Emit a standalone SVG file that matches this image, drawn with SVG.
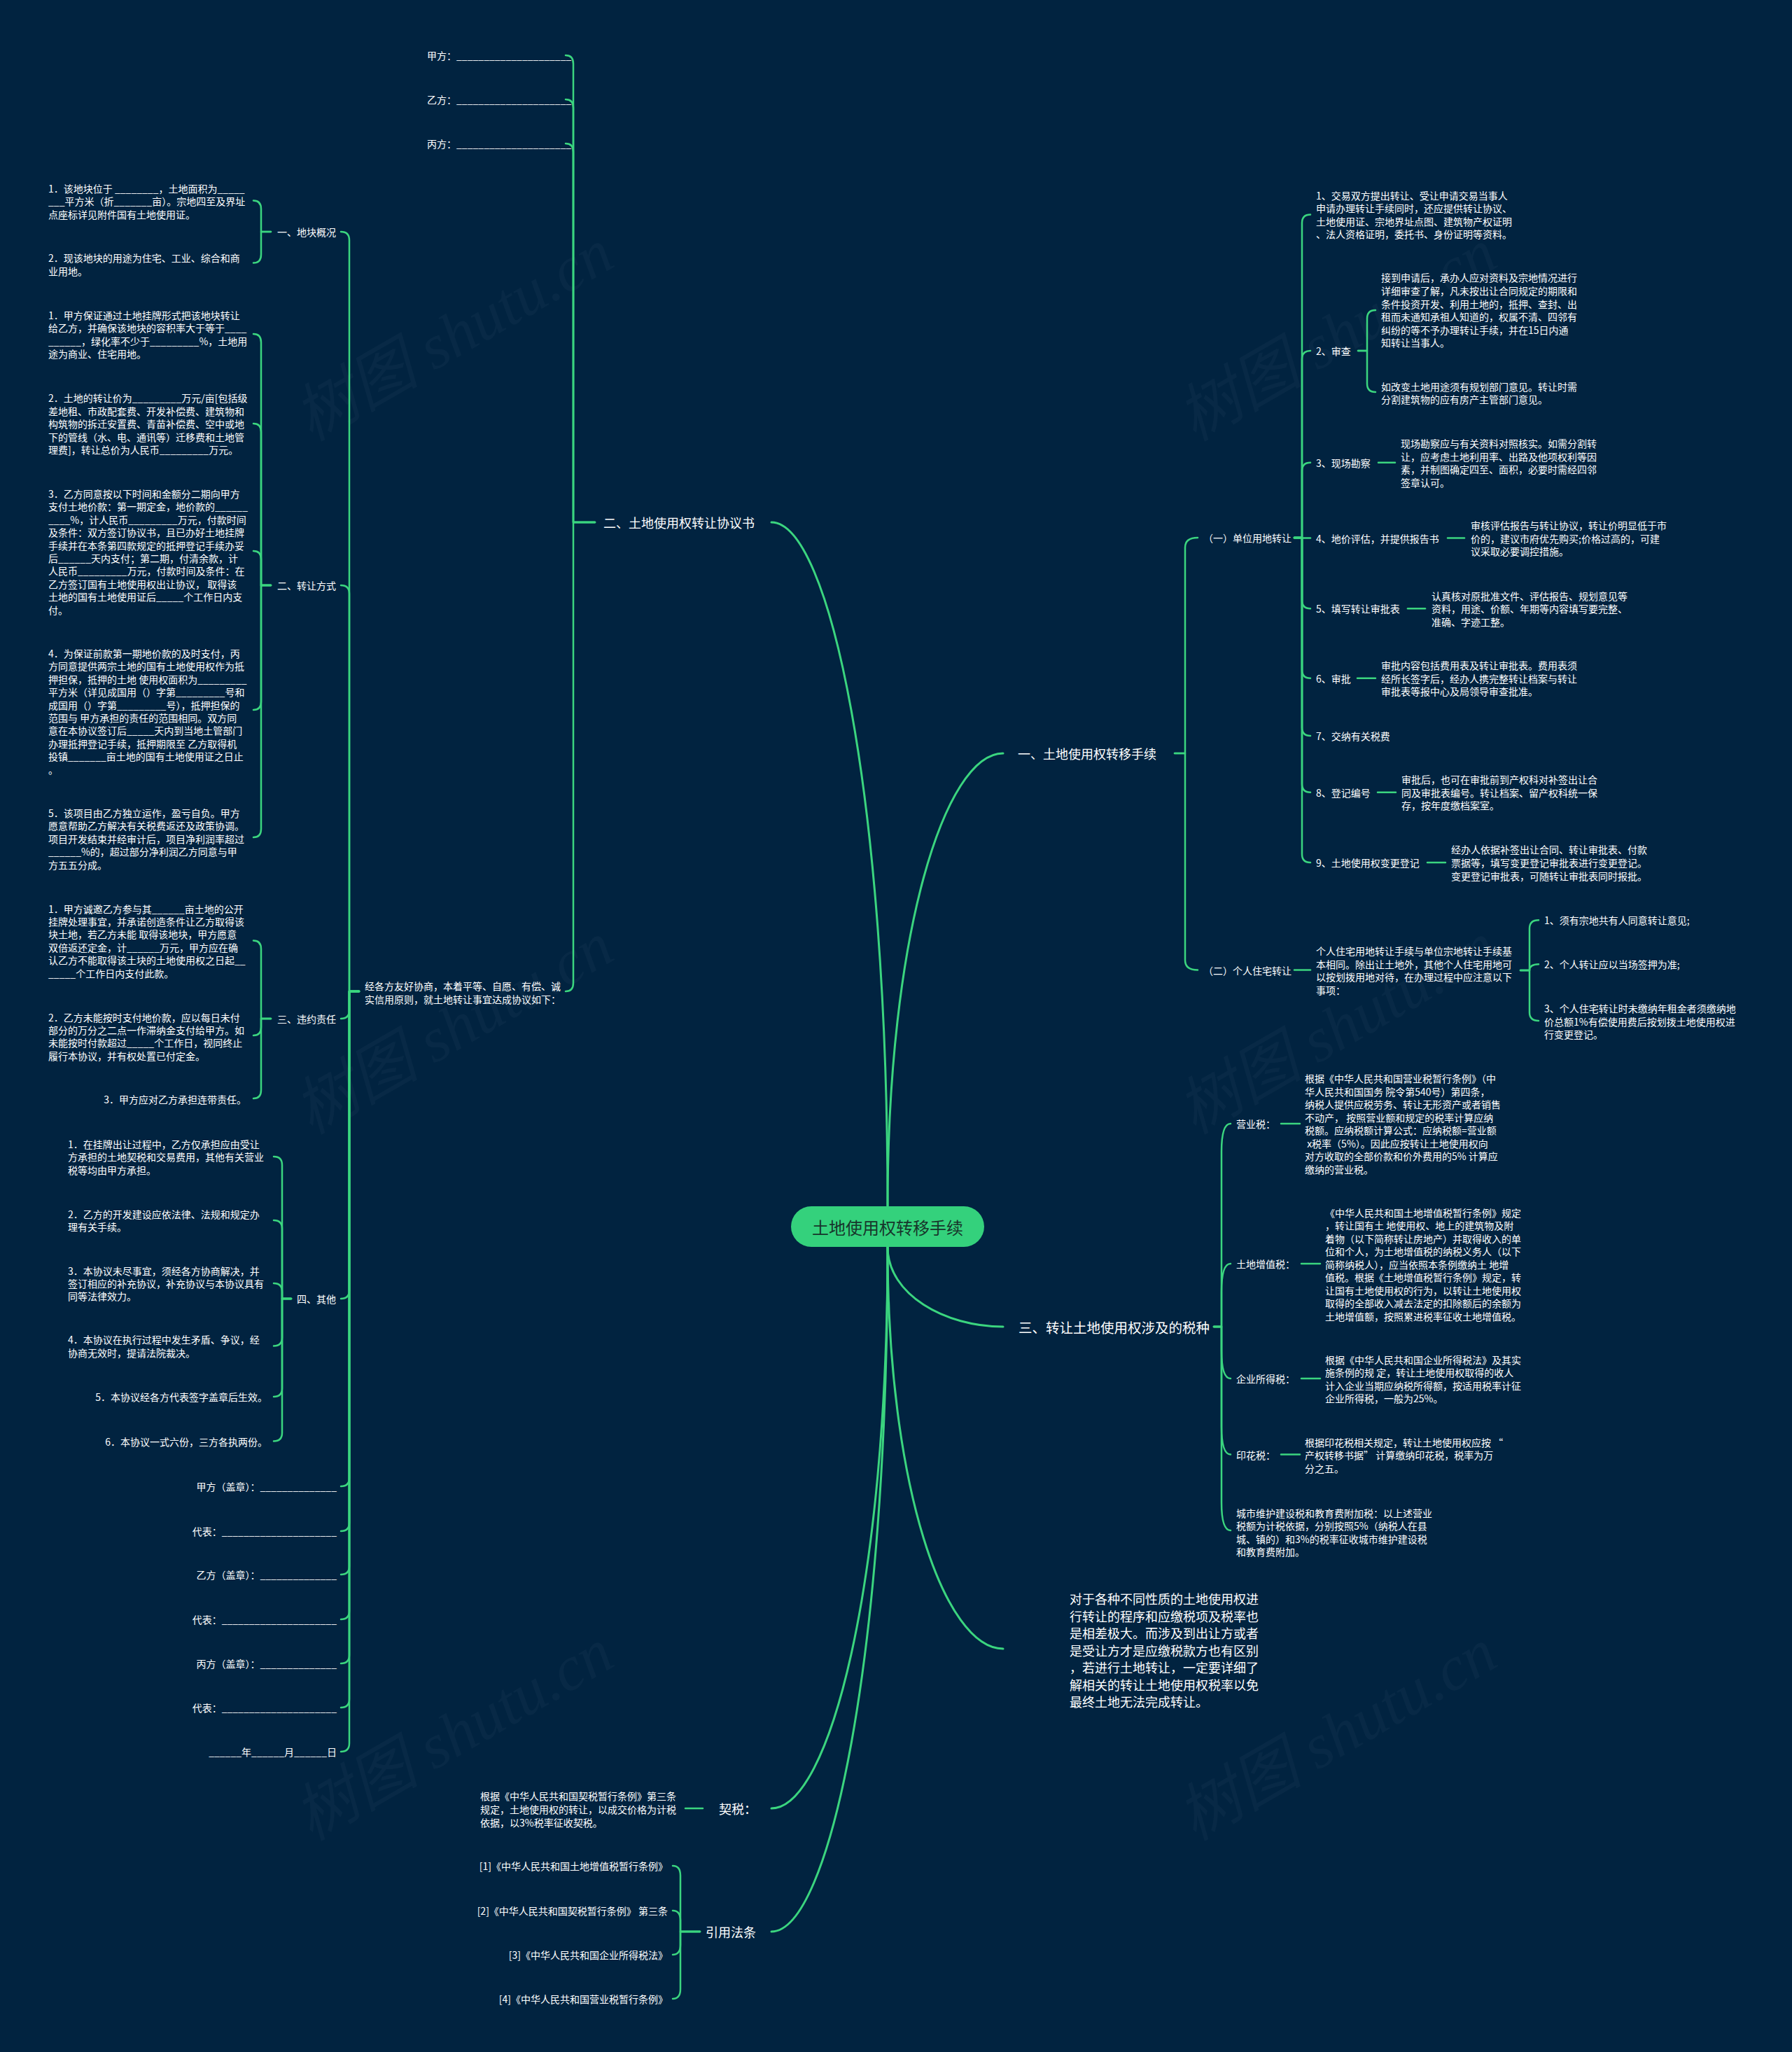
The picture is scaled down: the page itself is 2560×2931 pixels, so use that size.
<svg xmlns="http://www.w3.org/2000/svg" width="2560" height="2931" viewBox="0 0 2560 2931">
<defs>
<style>
.t{font-family:"Noto Sans CJK SC","Liberation Sans",sans-serif;font-size:14px;fill:#ffffff;dominant-baseline:central}
.e{text-anchor:end}
.l1{font-size:18px}
.l1b{font-size:19.5px}
.c{fill:none;stroke:#3bd57f;stroke-width:2.5;stroke-linecap:round;stroke-linejoin:round}
.rc{stroke-width:3}
.wm{font-family:"Liberation Serif","Noto Sans CJK SC",serif;font-style:italic;font-size:90px;fill:#ffffff;fill-opacity:0.03;text-anchor:middle}
</style>
</defs>
<rect x="0" y="0" width="2560" height="2931" fill="#012340"/>
<g id="watermarks">
<text class="wm" x="663" y="505" transform="rotate(-30 663 505)">树图 shutu.cn</text>
<text class="wm" x="663" y="1495" transform="rotate(-30 663 1495)">树图 shutu.cn</text>
<text class="wm" x="663" y="2504" transform="rotate(-30 663 2504)">树图 shutu.cn</text>
<text class="wm" x="1925" y="505" transform="rotate(-30 1925 505)">树图 shutu.cn</text>
<text class="wm" x="1925" y="1495" transform="rotate(-30 1925 1495)">树图 shutu.cn</text>
<text class="wm" x="1925" y="2504" transform="rotate(-30 1925 2504)">树图 shutu.cn</text>
</g>
<g id="connectors">
<path class="c rc" d="M1268 1723C1268 1137 1185 746 1102 746"/>
<path class="c rc" d="M1268 1723C1268 1335 1350 1076 1433 1076"/>
<path class="c rc" d="M1268 1781C1268 1849 1350 1895 1433 1895"/>
<path class="c rc" d="M1268 1781C1268 2125 1350 2355 1433 2355"/>
<path class="c rc" d="M1268 1781C1268 2262 1185 2583 1102 2583"/>
<path class="c rc" d="M1268 1781C1268 2368 1185 2759 1102 2759"/>
<path class="c" d="M850 746H819V91Q819 79 808 79"/>
<path class="c" d="M850 746H819V154Q819 142 808 142"/>
<path class="c" d="M850 746H819V217Q819 205 808 205"/>
<path class="c" d="M850 746H819V1404Q819 1416 808 1416"/>
<path class="c" d="M513 1416H499V343Q499 331 487 331"/>
<path class="c" d="M513 1416H499V848Q499 836 487 836"/>
<path class="c" d="M513 1416H499V1443Q499 1455 487 1455"/>
<path class="c" d="M513 1416H499V1843Q499 1855 487 1855"/>
<path class="c" d="M513 1416H499V2111Q499 2123 487 2123"/>
<path class="c" d="M513 1416H499V2175Q499 2187 487 2187"/>
<path class="c" d="M513 1416H499V2237Q499 2249 487 2249"/>
<path class="c" d="M513 1416H499V2301Q499 2313 487 2313"/>
<path class="c" d="M513 1416H499V2364Q499 2376 487 2376"/>
<path class="c" d="M513 1416H499V2427Q499 2439 487 2439"/>
<path class="c" d="M513 1416H499V2490Q499 2502 487 2502"/>
<path class="c" d="M387 331H373V298.5Q373 286.5 362 286.5"/>
<path class="c" d="M387 331H373V363.5Q373 375.5 362 375.5"/>
<path class="c" d="M387 836H373V489Q373 477 362 477"/>
<path class="c" d="M387 836H373V617Q373 605 362 605"/>
<path class="c" d="M387 836H373V799Q373 787 362 787"/>
<path class="c" d="M387 836H373V1002Q373 1014 362 1014"/>
<path class="c" d="M387 836H373V1184Q373 1196 362 1196"/>
<path class="c" d="M387 1455H373V1355.5Q373 1343.5 362 1343.5"/>
<path class="c" d="M387 1455H373V1467Q373 1479 362 1479"/>
<path class="c" d="M387 1455H373V1557Q373 1569 362 1569"/>
<path class="c" d="M416 1855H403V1664Q403 1652 391 1652"/>
<path class="c" d="M416 1855H403V1755Q403 1743 391 1743"/>
<path class="c" d="M416 1855H403V1845Q403 1833 391 1833"/>
<path class="c" d="M416 1855H403V1910.5Q403 1922.5 391 1922.5"/>
<path class="c" d="M416 1855H403V1983Q403 1995 391 1995"/>
<path class="c" d="M416 1855H403V2046.5Q403 2058.5 391 2058.5"/>
<path class="c" d="M1004 2583H979"/>
<path class="c" d="M1000 2759H972V2679Q972 2665 961 2665"/>
<path class="c" d="M1000 2759H972V2743Q972 2729 961 2729"/>
<path class="c" d="M1000 2759H972V2778Q972 2792 961 2792"/>
<path class="c" d="M1000 2759H972V2841Q972 2855 961 2855"/>
<path class="c" d="M1678 1076H1693V782Q1693 768 1711 768"/>
<path class="c" d="M1678 1076H1693V1371.5Q1693 1385.5 1711 1385.5"/>
<path class="c" d="M1849 768H1860V318.5Q1860 306.5 1872 306.5"/>
<path class="c" d="M1849 768H1860V513Q1860 501 1872 501"/>
<path class="c" d="M1849 768H1860V672.7Q1860 660.7 1872 660.7"/>
<path class="c" d="M1849 768.6H1872"/>
<path class="c" d="M1849 768H1860V857.2Q1860 869.2 1872 869.2"/>
<path class="c" d="M1849 768H1860V956.7Q1860 968.7 1872 968.7"/>
<path class="c" d="M1849 768H1860V1038.9Q1860 1050.9 1872 1050.9"/>
<path class="c" d="M1849 768H1860V1119.7Q1860 1131.7 1872 1131.7"/>
<path class="c" d="M1849 768H1860V1220Q1860 1232 1872 1232"/>
<path class="c" d="M1849 1385.5H1872"/>
<path class="c" d="M1940 501H1953V455Q1953 443 1965 443"/>
<path class="c" d="M1940 501H1953V548Q1953 560 1965 560"/>
<path class="c" d="M1969 660.7H1993"/>
<path class="c" d="M2068 768.6H2092"/>
<path class="c" d="M2011 869.2H2036"/>
<path class="c" d="M1939 968.7H1965"/>
<path class="c" d="M1968 1131.7H1994"/>
<path class="c" d="M2039 1232H2065"/>
<path class="c" d="M2172 1386H2185V1326.3Q2185 1314.3 2198 1314.3"/>
<path class="c" d="M2172 1386H2185Q2185 1377.2 2198 1377.2"/>
<path class="c" d="M2172 1386H2185V1446Q2185 1458 2198 1458"/>
<path class="c" d="M1734 1895H1745V1645Q1745 1605 1758 1605"/>
<path class="c" d="M1734 1895H1745V1845Q1745 1805 1758 1805"/>
<path class="c" d="M1734 1895H1745V1929Q1745 1969 1758 1969"/>
<path class="c" d="M1734 1895H1745V2037.5Q1745 2077.5 1758 2077.5"/>
<path class="c" d="M1734 1895H1745V2146Q1745 2186 1758 2186"/>
<path class="c" d="M1830 1605H1857"/>
<path class="c" d="M1859 1805H1886"/>
<path class="c" d="M1859 1969H1886"/>
<path class="c" d="M1830 2077.5H1857"/>
</g>
<g id="n-root">
<rect x="1130" y="1723" width="276" height="58" rx="29" fill="#34d17c"/>
<text class="t" x="1268" y="1752" style="font-size:24px;fill:#17362b;text-anchor:middle">土地使用权转移手续</text>
</g>
<g id="n-er"><text class="t l1" x="862" y="746">二、土地使用权转让协议书</text></g>
<g id="n-jiafang"><text class="t" x="610" y="79">甲方：_____________________</text></g>
<g id="n-yifang"><text class="t" x="610" y="142">乙方：_____________________</text></g>
<g id="n-bingfang"><text class="t" x="610" y="205">丙方：_____________________</text></g>
<g id="n-jingge"><text class="t"><tspan x="521" y="1408">经各方友好协商，本着平等、自愿、有偿、诚</tspan><tspan x="521" y="1427">实信用原则，就土地转让事宜达成协议如下：</tspan></text></g>
<g id="n-dk"><text class="t e" x="480" y="331">一、地块概况</text></g>
<g id="n-dk1"><text class="t"><tspan x="69" y="268.5">1．该地块位于 ________，土地面积为_____</tspan><tspan x="69" y="287">___平方米（折_______亩）。宗地四至及界址</tspan><tspan x="69" y="305.5">点座标详见附件国有土地使用证。</tspan></text></g>
<g id="n-dk2"><text class="t"><tspan x="69" y="368">2．现该地块的用途为住宅、工业、综合和商</tspan><tspan x="69" y="386.5">业用地。</tspan></text></g>
<g id="n-zr"><text class="t e" x="480" y="836">二、转让方式</text></g>
<g id="n-zr1"><text class="t"><tspan x="69" y="449.5">1．甲方保证通过土地挂牌形式把该地块转让</tspan><tspan x="69" y="468">给乙方，并确保该地块的容积率大于等于____</tspan><tspan x="69" y="486.5">______，绿化率不少于_________%，土地用</tspan><tspan x="69" y="505">途为商业、住宅用地。</tspan></text></g>
<g id="n-zr2"><text class="t"><tspan x="69" y="568">2．土地的转让价为_________万元/亩[包括级</tspan><tspan x="69" y="586.5">差地租、市政配套费、开发补偿费、建筑物和</tspan><tspan x="69" y="605">构筑物的拆迁安置费、青苗补偿费、空中或地</tspan><tspan x="69" y="623.5">下的管线（水、电、通讯等）迁移费和土地管</tspan><tspan x="69" y="642">理费]，转让总价为人民币_________万元。</tspan></text></g>
<g id="n-zr3"><text class="t"><tspan x="69" y="705">3．乙方同意按以下时间和金额分二期向甲方</tspan><tspan x="69" y="723.4">支付土地价款：第一期定金，地价款的______</tspan><tspan x="69" y="741.8">____%，计人民币_________万元，付款时间</tspan><tspan x="69" y="760.2">及条件：双方签订协议书，且已办好土地挂牌</tspan><tspan x="69" y="778.6">手续并在本条第四款规定的抵押登记手续办妥</tspan><tspan x="69" y="797">后______天内支付；第二期，付清余款，计</tspan><tspan x="69" y="815.4">人民币_________万元，付款时间及条件：在</tspan><tspan x="69" y="833.8">乙方签订国有土地使用权出让协议， 取得该</tspan><tspan x="69" y="852.2">土地的国有土地使用证后_____个工作日内支</tspan><tspan x="69" y="870.6">付。</tspan></text></g>
<g id="n-zr4"><text class="t"><tspan x="69" y="933">4．为保证前款第一期地价款的及时支付，丙</tspan><tspan x="69" y="951.4">方同意提供两宗土地的国有土地使用权作为抵</tspan><tspan x="69" y="969.8">押担保，抵押的土地 使用权面积为_________</tspan><tspan x="69" y="988.2">平方米（详见成国用（）字第_________号和</tspan><tspan x="69" y="1006.6">成国用（）字第_________号），抵押担保的</tspan><tspan x="69" y="1025">范围与 甲方承担的责任的范围相同。双方同</tspan><tspan x="69" y="1043.4">意在本协议签订后_____天内到当地土管部门</tspan><tspan x="69" y="1061.8">办理抵押登记手续，抵押期限至 乙方取得机</tspan><tspan x="69" y="1080.2">投镇_______亩土地的国有土地使用证之日止</tspan><tspan x="69" y="1098.6">。</tspan></text></g>
<g id="n-zr5"><text class="t"><tspan x="69" y="1161">5．该项目由乙方独立运作，盈亏自负。甲方</tspan><tspan x="69" y="1179.4">愿意帮助乙方解决有关税费返还及政策协调。</tspan><tspan x="69" y="1197.8">项目开发结束并经审计后，项目净利润率超过</tspan><tspan x="69" y="1216.2">______%的，超过部分净利润乙方同意与甲</tspan><tspan x="69" y="1234.6">方五五分成。</tspan></text></g>
<g id="n-wy"><text class="t e" x="480" y="1455">三、违约责任</text></g>
<g id="n-wy1"><text class="t"><tspan x="69" y="1297.5">1．甲方诚邀乙方参与其______亩土地的公开</tspan><tspan x="69" y="1315.9">挂牌处理事宜，并承诺创造条件让乙方取得该</tspan><tspan x="69" y="1334.3">块土地，若乙方未能 取得该地块，甲方愿意</tspan><tspan x="69" y="1352.7">双倍返还定金，计______万元，甲方应在确</tspan><tspan x="69" y="1371.1">认乙方不能取得该土块的土地使用权之日起__</tspan><tspan x="69" y="1389.5">_____个工作日内支付此款。</tspan></text></g>
<g id="n-wy2"><text class="t"><tspan x="69" y="1452.6">2．乙方未能按时支付地价款，应以每日未付</tspan><tspan x="69" y="1471">部分的万分之二点一作滞纳金支付给甲方。如</tspan><tspan x="69" y="1489.4">未能按时付款超过_____个工作日，视同终止</tspan><tspan x="69" y="1507.8">履行本协议，并有权处置已付定金。</tspan></text></g>
<g id="n-wy3"><text class="t e" x="352" y="1570">3．甲方应对乙方承担连带责任。</text></g>
<g id="n-qt"><text class="t e" x="480" y="1855">四、其他</text></g>
<g id="n-qt1"><text class="t"><tspan x="97" y="1634">1．在挂牌出让过程中，乙方仅承担应由受让</tspan><tspan x="97" y="1652.4">方承担的土地契税和交易费用，其他有关营业</tspan><tspan x="97" y="1670.8">税等均由甲方承担。</tspan></text></g>
<g id="n-qt2"><text class="t"><tspan x="97" y="1733.7">2．乙方的开发建设应依法律、法规和规定办</tspan><tspan x="97" y="1752.1">理有关手续。</tspan></text></g>
<g id="n-qt3"><text class="t"><tspan x="97" y="1814.6">3．本协议未尽事宜，须经各方协商解决，并</tspan><tspan x="97" y="1833">签订相应的补充协议，补充协议与本协议具有</tspan><tspan x="97" y="1851.4">同等法律效力。</tspan></text></g>
<g id="n-qt4"><text class="t"><tspan x="97" y="1913.4">4．本协议在执行过程中发生矛盾、争议，经</tspan><tspan x="97" y="1931.8">协商无效时，提请法院裁决。</tspan></text></g>
<g id="n-qt5"><text class="t e" x="382" y="1995">5．本协议经各方代表签字盖章后生效。</text></g>
<g id="n-qt6"><text class="t e" x="382" y="2058.5">6．本协议一式六份，三方各执两份。</text></g>
<g id="n-sig1"><text class="t e" x="481" y="2123">甲方（盖章）：______________</text></g>
<g id="n-sig2"><text class="t e" x="481" y="2187">代表：_____________________</text></g>
<g id="n-sig3"><text class="t e" x="481" y="2249">乙方（盖章）：______________</text></g>
<g id="n-sig4"><text class="t e" x="481" y="2313">代表：_____________________</text></g>
<g id="n-sig5"><text class="t e" x="481" y="2376">丙方（盖章）：______________</text></g>
<g id="n-sig6"><text class="t e" x="481" y="2439">代表：_____________________</text></g>
<g id="n-sig7"><text class="t e" x="481" y="2502">______年______月______日</text></g>
<g id="n-one"><text class="t l1" x="1454" y="1076">一、土地使用权转移手续</text></g>
<g id="n-dw"><text class="t" x="1719" y="768">（一）单位用地转让</text></g>
<g id="n-dw1"><text class="t"><tspan x="1880" y="278.5">1、交易双方提出转让、受让申请交易当事人</tspan><tspan x="1880" y="297.1">申请办理转让手续同时，还应提供转让协议、</tspan><tspan x="1880" y="315.7">土地使用证、宗地界址点图、建筑物产权证明</tspan><tspan x="1880" y="334.3">、法人资格证明，委托书、身份证明等资料。</tspan></text></g>
<g id="n-dw2"><text class="t" x="1880" y="501">2、审查</text></g>
<g id="n-dw2a"><text class="t"><tspan x="1973" y="396.4">接到申请后，承办人应对资料及宗地情况进行</tspan><tspan x="1973" y="415">详细审查了解，凡未按出让合同规定的期限和</tspan><tspan x="1973" y="433.6">条件投资开发、利用土地的，抵押、查封、出</tspan><tspan x="1973" y="452.2">租而未通知承祖人知道的，权属不清、四邻有</tspan><tspan x="1973" y="470.8">纠纷的等不予办理转让手续，并在15日内通</tspan><tspan x="1973" y="489.4">知转让当事人。</tspan></text></g>
<g id="n-dw2b"><text class="t"><tspan x="1973" y="551.8">如改变土地用途须有规划部门意见。转让时需</tspan><tspan x="1973" y="570.4">分割建筑物的应有房产主管部门意见。</tspan></text></g>
<g id="n-dw3"><text class="t" x="1880" y="660.7">3、现场勘察</text></g>
<g id="n-dw3a"><text class="t"><tspan x="2001" y="633.2">现场勘察应与有关资料对照核实。如需分割转</tspan><tspan x="2001" y="651.8">让，应考虑土地利用率、出路及他项权利等因</tspan><tspan x="2001" y="670.4">素，并制图确定四至、面积，必要时需经四邻</tspan><tspan x="2001" y="689">签章认可。</tspan></text></g>
<g id="n-dw4"><text class="t" x="1880" y="768.6">4、地价评估，并提供报告书</text></g>
<g id="n-dw4a"><text class="t"><tspan x="2101" y="750">审核评估报告与转让协议，转让价明显低于市</tspan><tspan x="2101" y="768.6">价的，建议市府优先购买;价格过高的，可建</tspan><tspan x="2101" y="787.2">议采取必要调控措施。</tspan></text></g>
<g id="n-dw5"><text class="t" x="1880" y="869.2">5、填写转让审批表</text></g>
<g id="n-dw5a"><text class="t"><tspan x="2045" y="850.6">认真核对原批准文件、评估报告、规划意见等</tspan><tspan x="2045" y="869.2">资料，用途、价额、年期等内容填写要完整、</tspan><tspan x="2045" y="887.8">准确、字迹工整。</tspan></text></g>
<g id="n-dw6"><text class="t" x="1880" y="968.7">6、审批</text></g>
<g id="n-dw6a"><text class="t"><tspan x="1973" y="950.1">审批内容包括费用表及转让审批表。费用表须</tspan><tspan x="1973" y="968.7">经所长签字后，经办人携完整转让档案与转让</tspan><tspan x="1973" y="987.3">审批表等报中心及局领导审查批准。</tspan></text></g>
<g id="n-dw7"><text class="t" x="1880" y="1050.9">7、交纳有关税费</text></g>
<g id="n-dw8"><text class="t" x="1880" y="1131.7">8、登记编号</text></g>
<g id="n-dw8a"><text class="t"><tspan x="2002" y="1113.1">审批后，也可在审批前到产权科对补签出让合</tspan><tspan x="2002" y="1131.7">同及审批表编号。转让档案、留产权科统一保</tspan><tspan x="2002" y="1150.3">存，按年度缴档案室。</tspan></text></g>
<g id="n-dw9"><text class="t" x="1880" y="1232">9、土地使用权变更登记</text></g>
<g id="n-dw9a"><text class="t"><tspan x="2073" y="1213.4">经办人依据补签出让合同、转让审批表、付款</tspan><tspan x="2073" y="1232">票据等，填写变更登记审批表进行变更登记。</tspan><tspan x="2073" y="1250.6">变更登记审批表，可随转让审批表同时报批。</tspan></text></g>
<g id="n-gr"><text class="t" x="1719" y="1385.5">（二）个人住宅转让</text></g>
<g id="n-gra"><text class="t"><tspan x="1880" y="1358">个人住宅用地转让手续与单位宗地转让手续基</tspan><tspan x="1880" y="1376.6">本相同。除出让土地外，其他个人住宅用地可</tspan><tspan x="1880" y="1395.2">以按划拨用地对待，在办理过程中应注意以下</tspan><tspan x="1880" y="1413.8">事项：</tspan></text></g>
<g id="n-gr1"><text class="t" x="2206" y="1314.3">1、须有宗地共有人同意转让意见;</text></g>
<g id="n-gr2"><text class="t" x="2206" y="1377.2">2、个人转让应以当场签押为准;</text></g>
<g id="n-gr3"><text class="t"><tspan x="2206" y="1440">3、个人住宅转让时未缴纳年租金者须缴纳地</tspan><tspan x="2206" y="1458.6">价总额1%有偿使用费后按划拨土地使用权进</tspan><tspan x="2206" y="1477.2">行变更登记。</tspan></text></g>
<g id="n-three"><text class="t l1b" x="1455" y="1895">三、转让土地使用权涉及的税种</text></g>
<g id="n-yys"><text class="t" x="1766" y="1605">营业税：</text></g>
<g id="n-yysa"><text class="t"><tspan x="1864" y="1540">根据《中华人民共和国营业税暂行条例》（中</tspan><tspan x="1864" y="1558.5">华人民共和国国务 院令第540号）第四条，</tspan><tspan x="1864" y="1577">纳税人提供应税劳务、转让无形资产或者销售</tspan><tspan x="1864" y="1595.5">不动产， 按照营业额和规定的税率计算应纳</tspan><tspan x="1864" y="1614">税额。应纳税额计算公式：应纳税额=营业额</tspan><tspan x="1864" y="1632.5">&#160;x税率（5%）。因此应按转让土地使用权向</tspan><tspan x="1864" y="1651">对方收取的全部价款和价外费用的5% 计算应</tspan><tspan x="1864" y="1669.5">缴纳的营业税。</tspan></text></g>
<g id="n-tdzzs"><text class="t" x="1766" y="1805">土地增值税：</text></g>
<g id="n-tdzzsa"><text class="t"><tspan x="1893" y="1731.5">《中华人民共和国土地增值税暂行条例》规定</tspan><tspan x="1893" y="1750">，转让国有土 地使用权、地上的建筑物及附</tspan><tspan x="1893" y="1768.5">着物（以下简称转让房地产）并取得收入的单</tspan><tspan x="1893" y="1787">位和个人，为土地增值税的纳税义务人（以下</tspan><tspan x="1893" y="1805.5">简称纳税人），应当依照本条例缴纳土 地增</tspan><tspan x="1893" y="1824">值税。根据《土地增值税暂行条例》规定，转</tspan><tspan x="1893" y="1842.5">让国有土地使用权的行为，以转让土地使用权</tspan><tspan x="1893" y="1861">取得的全部收入减去法定的扣除额后的余额为</tspan><tspan x="1893" y="1879.5">土地增值额，按照累进税率征收土地增值税。</tspan></text></g>
<g id="n-qysds"><text class="t" x="1766" y="1969">企业所得税：</text></g>
<g id="n-qysdsa"><text class="t"><tspan x="1893" y="1941.5">根据《中华人民共和国企业所得税法》及其实</tspan><tspan x="1893" y="1960">施条例的规 定，转让土地使用权取得的收人</tspan><tspan x="1893" y="1978.5">计入企业当期应纳税所得额，按适用税率计征</tspan><tspan x="1893" y="1997">企业所得税，一般为25%。</tspan></text></g>
<g id="n-yhs"><text class="t" x="1766" y="2077.5">印花税：</text></g>
<g id="n-yhsa"><text class="t"><tspan x="1864" y="2059.5">根据印花税相关规定，转让土地使用权应按 “</tspan><tspan x="1864" y="2078">产权转移书据” 计算缴纳印花税，税率为万</tspan><tspan x="1864" y="2096.5">分之五。</tspan></text></g>
<g id="n-cs"><text class="t"><tspan x="1766" y="2160.5">城市维护建设税和教育费附加税：以上述营业</tspan><tspan x="1766" y="2179">税额为计税依据，分别按照5%（纳税人在县</tspan><tspan x="1766" y="2197.5">城、镇的）和3%的税率征收城市维护建设税</tspan><tspan x="1766" y="2216">和教育费附加。</tspan></text></g>
<g id="n-para"><text class="t l1"><tspan x="1528" y="2283">对于各种不同性质的土地使用权进</tspan><tspan x="1528" y="2307.5">行转让的程序和应缴税项及税率也</tspan><tspan x="1528" y="2332">是相差极大。而涉及到出让方或者</tspan><tspan x="1528" y="2356.5">是受让方才是应缴税款方也有区别</tspan><tspan x="1528" y="2381">，若进行土地转让，一定要详细了</tspan><tspan x="1528" y="2405.5">解相关的转让土地使用权税率以免</tspan><tspan x="1528" y="2430">最终土地无法完成转让。</tspan></text></g>
<g id="n-qishui"><text class="t l1" x="1027" y="2583">契税：</text></g>
<g id="n-qishuia"><text class="t"><tspan x="686" y="2565">根据《中华人民共和国契税暂行条例》第三条</tspan><tspan x="686" y="2584">规定，土地使用权的转让，以成交价格为计税</tspan><tspan x="686" y="2603">依据，以3%税率征收契税。</tspan></text></g>
<g id="n-yinyong"><text class="t l1" x="1008" y="2759">引用法条</text></g>
<g id="n-law1"><text class="t e" x="954" y="2665">[1]《中华人民共和国土地增值税暂行条例》</text></g>
<g id="n-law2"><text class="t e" x="954" y="2729">[2]《中华人民共和国契税暂行条例》 第三条</text></g>
<g id="n-law3"><text class="t e" x="954" y="2792">[3]《中华人民共和国企业所得税法》</text></g>
<g id="n-law4"><text class="t e" x="954" y="2855">[4]《中华人民共和国营业税暂行条例》</text></g>
</svg>
